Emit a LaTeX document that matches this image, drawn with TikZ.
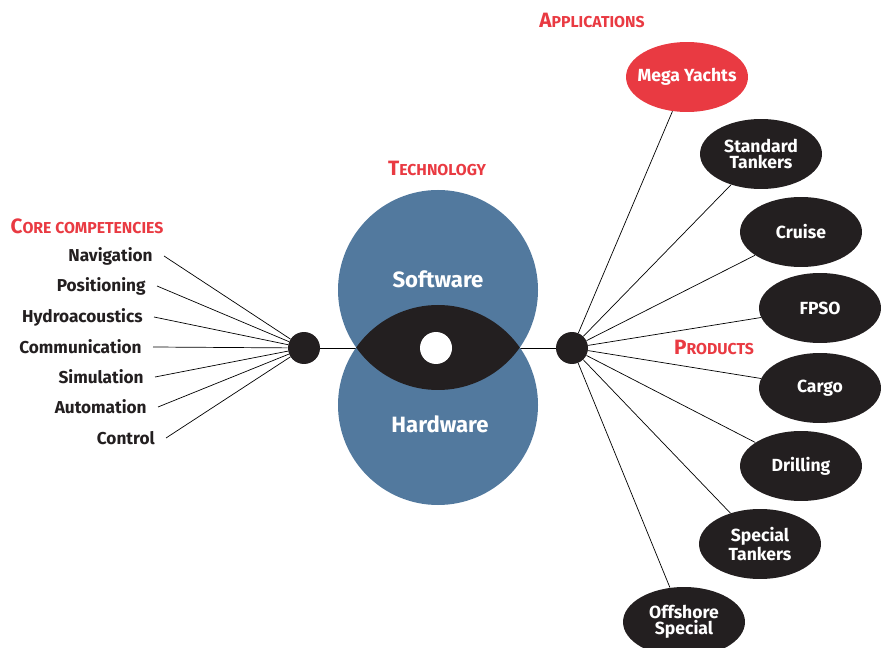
\documentclass[tikz,border=0pt]{standalone}
\usepackage{fontspec}
\setmainfont{Fira Sans}
\usetikzlibrary{shapes.geometric}
\definecolor{capred}{HTML}{E93A42}
\definecolor{capblue}{HTML}{52799E}
\definecolor{capblack}{HTML}{231F20}
\newcommand{\smc}[2]{{\fontsize{11.8}{13}\selectfont #1}{\fontsize{9}{11}\selectfont #2}}
\tikzset{
  comp/.style={anchor=east,inner xsep=0.22cm,inner ysep=0pt,text=capblack,font=\fontsize{9.8}{11}\selectfont\bfseries},
  prod/.style={ellipse,fill=capblack,text=white,minimum width=2.44cm,minimum height=1.4cm,inner sep=0pt,align=center,font=\fontsize{10}{9.2}\selectfont\bfseries},
  hub/.style={circle,fill=capblack,minimum size=0.64cm,inner sep=0pt},
  headline/.style={text=capred,font=\bfseries,inner sep=0pt}
}
\begin{document}
\begin{tikzpicture}[x=0.02cm,y=-0.02cm]
\pgfmathsetmacro{\r}{100}
\clip (0,0) rectangle (889,648);
%\draw[help lines,step=50] (0,0) grid (889,648);
\node[hub] (lhub) at (304,348) {};
\node[hub] (rhub) at (572,348) {};
\draw[line width=0.5pt] (lhub)--(rhub);
\fill[capblue] (438,290) circle[radius=\r] (438,405) circle[radius=\r];
\begin{scope}
\clip (438,290) circle[radius=\r];
\fill[capblack] (438,405) circle[radius=\r];
\end{scope}
\node[circle,fill=white,minimum size=0.64cm,inner sep=0pt] (eye) at (436,348) {};
\node[text=white,font=\fontsize{12.6}{13}\selectfont\bfseries] (soft) at (438,279) {Software};
\node[text=white,font=\fontsize{12.6}{13}\selectfont\bfseries] (hard) at (440,424) {Hardware};
\node[headline] (tcore) at (87,226) {\smc{C}{ORE COMPETENCIES}};
\node[headline] (ttech) at (437,168) {\smc{T}{ECHNOLOGY}};
\node[headline] (tapp) at (592,20) {\smc{A}{PPLICATIONS}};
\node[headline] (tprod) at (714,347) {\smc{P}{RODUCTS}};
\foreach \name/\x/\y [count=\i] in {Navigation/164/256,Positioning/157/286,Hydroacoustics/154/317,Communication/153/347,Simulation/155/377,Automation/158/407,Control/166/438}{
  \node[comp] (c\i) at (\x,\y) {\name};
  \draw[line width=0.4pt] (c\i.east)--(lhub);
}
\node[prod,fill=capred,inner xsep=-0.3cm] (p1) at (687,77) {Mega Yachts};
\draw[line width=0.4pt] (rhub)--(p1);
\foreach \name/\x/\y [count=\i] in {{Standard\\Tankers}/761/154,{Cruise}/801/232,{FPSO}/820/308,{Cargo}/820/388,{Drilling}/801/466,{Special\\Tankers}/760/544,{Offshore\\Special}/684/622}{
  \node[prod] (q\i) at (\x,\y) {\name};
  \draw[line width=0.4pt] (rhub)--(q\i);
}
\end{tikzpicture}
\end{document}
